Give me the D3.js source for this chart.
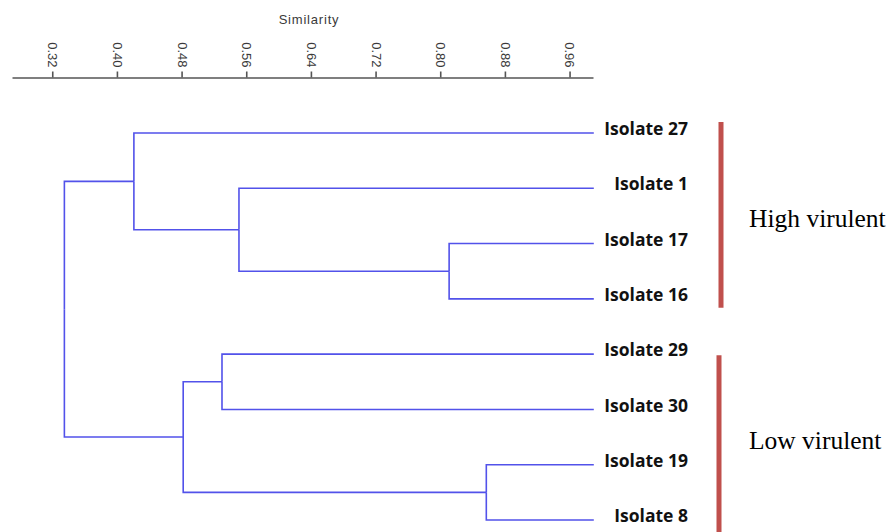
<!DOCTYPE html>
<html>
<head>
<meta charset="utf-8">
<script src="https://cdn.jsdelivr.net/npm/d3@7"></script>
<style>
  html, body { margin: 0; padding: 0; background: #fff; }
  svg { display: block; }
</style>
</head>
<body>
<svg id="chart" width="893" height="532"></svg>
<script>
// ---- data ----
const leaves = ["Isolate 27", "Isolate 1", "Isolate 17", "Isolate 16",
                "Isolate 29", "Isolate 30", "Isolate 19", "Isolate 8"];
const leafSimilarity = 0.99;
const mergeNames = ["C1", "C2", "C3", "C4", "C5", "C6", "Root"];
const mergeChildren = [
  ["Isolate 17", "Isolate 16"],
  ["Isolate 1", "C1"],
  ["Isolate 27", "C2"],
  ["Isolate 29", "Isolate 30"],
  ["Isolate 19", "Isolate 8"],
  ["C4", "C5"],
  ["C3", "C6"]
];
const mergeSimilarity = [0.811, 0.551, 0.421, 0.530, 0.857, 0.482, 0.335];
const tickValues = [0.32, 0.40, 0.48, 0.56, 0.64, 0.72, 0.80, 0.88, 0.96];
const axisTitle = "Similarity";
const groupNames = ["High virulent", "Low virulent"];
const groupFirst = ["Isolate 27", "Isolate 29"];
const groupLast = ["Isolate 16", "Isolate 8"];

// ---- scales ----
const svg = d3.select("#chart");
const x = d3.scaleLinear().domain([0.2702, 0.989]).range([12, 593]);
const y = d3.scalePoint().domain(leaves).range([133, 520]);

// node positions
const pos = {};
leaves.forEach(l => { pos[l] = { x: x(leafSimilarity), y: y(l) }; });
mergeNames.forEach((n, i) => {
  const [a, b] = mergeChildren[i];
  pos[n] = { x: x(mergeSimilarity[i]), y: (pos[a].y + pos[b].y) / 2 };
});

// ---- axis ----
const axis = d3.axisTop(x).tickValues(tickValues).tickSize(6).tickSizeOuter(0)
  .tickFormat(d3.format(".2f"));
const gAxis = svg.append("g").attr("transform", "translate(0,77.5)").call(axis);
gAxis.select(".domain").attr("stroke", "#555").attr("stroke-width", 1.6);
gAxis.selectAll(".tick line").attr("stroke", "#555").attr("stroke-width", 1.6);
gAxis.selectAll(".tick text")
  .attr("fill", "#3a3a3a")
  .style("font-family", "'Liberation Sans', Arial, sans-serif")
  .style("font-size", "13px")
  .attr("text-anchor", "end")
  .attr("transform", "translate(0,-10) rotate(90)")
  .attr("x", 0).attr("y", 0).attr("dy", "0.35em");

svg.append("text")
  .attr("x", 309).attr("y", 24)
  .attr("text-anchor", "middle")
  .attr("fill", "#3a3a3a")
  .style("font-family", "'Liberation Sans', Arial, sans-serif")
  .style("font-size", "13px")
  .style("letter-spacing", "0.8px")
  .text(axisTitle);

// ---- dendrogram ----
const gTree = svg.append("g")
  .attr("fill", "none").attr("stroke", "#5252ea").attr("stroke-width", 1.6);
mergeNames.forEach((n, i) => {
  const p = pos[n];
  mergeChildren[i].forEach(c => {
    const q = pos[c];
    gTree.append("path").attr("d", `M${p.x},${p.y}V${q.y}H${q.x}`);
  });
});

// leaf labels
svg.append("g").selectAll("text").data(leaves).join("text")
  .attr("x", 688).attr("y", d => y(d) - 4).attr("dy", "0.35em")
  .attr("text-anchor", "end")
  .attr("fill", "#111")
  .style("font-family", "'Open Sans', sans-serif")
  .style("font-weight", "bold")
  .style("font-size", "17.5px")
  .text(d => d);

// ---- groups ----
const gapTop = [-11, 1];
const gapBot = [9, 20];
const barX = [721, 719];
groupNames.forEach((g, i) => {
  const y0 = y(groupFirst[i]) + gapTop[i];
  const y1 = y(groupLast[i]) + gapBot[i];
  svg.append("line")
    .attr("x1", barX[i]).attr("x2", barX[i]).attr("y1", y0).attr("y2", y1)
    .attr("stroke", "#c0504d").attr("stroke-width", 5);
  const mid = (y(groupFirst[i]) + y(groupLast[i])) / 2;
  svg.append("text")
    .attr("x", 749).attr("y", mid + (i === 0 ? 11 : 12))
    .attr("fill", "#000")
    .style("font-family", "'Liberation Serif', 'Times New Roman', serif")
    .style("font-size", "25.5px")
    .text(g);
});
</script>
</body>
</html>
